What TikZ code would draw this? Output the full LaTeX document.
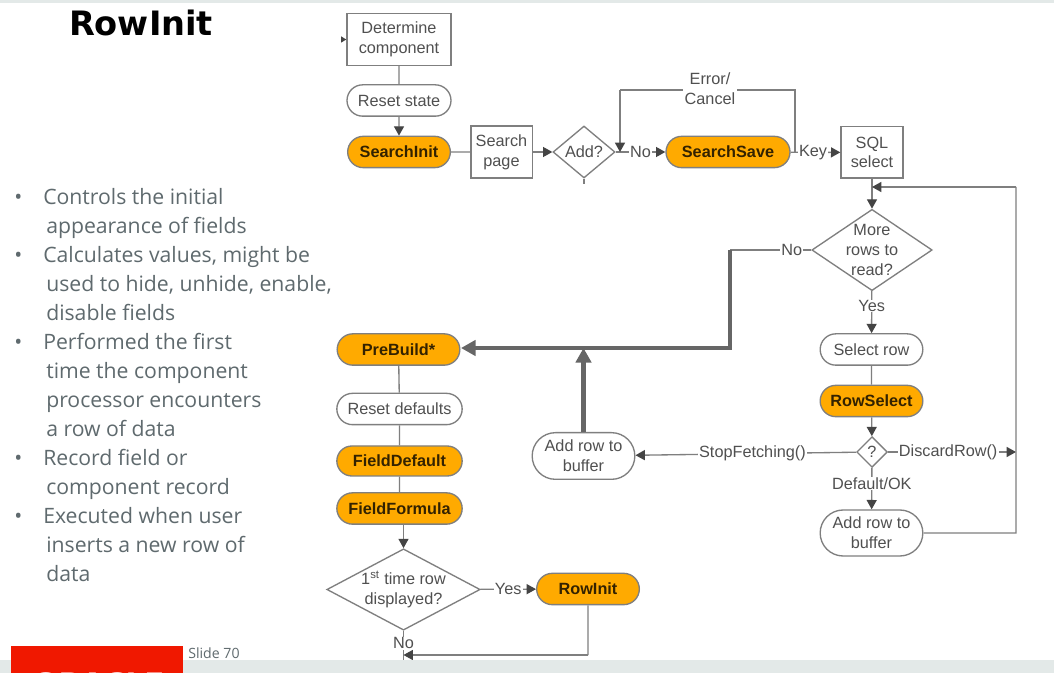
\documentclass[tikz,border=0pt]{standalone}
\usepackage{fontspec}
\setmainfont{Liberation Sans}
\newfontfamily\slidefont{Open Sans}
\newfontfamily\titlefont{DejaVu Sans}
\usetikzlibrary{arrows.meta, shapes.geometric, shapes.misc}
\definecolor{linegray}{HTML}{7F7F7F}
\definecolor{tipgray}{HTML}{444444}
\definecolor{thickgray}{HTML}{666666}
\definecolor{flowtext}{HTML}{505050}
\definecolor{slidetext}{HTML}{5F6A6E}
\definecolor{steporange}{HTML}{FFAA00}
\definecolor{bandgray}{HTML}{E3E9E8}
\definecolor{logored}{HTML}{F01800}

\begin{document}
\begin{tikzpicture}
% Style
[
    x=0.75pt, y=-0.75pt, line cap=butt,
    flow text/.style={font=\fontsize{12.2}{14.8}\selectfont, text=flowtext, align=center},
    rect box/.style={flow text, rectangle, draw=linegray, line width=1pt, fill=white, inner sep=0pt},
    round box/.style={flow text, rounded rectangle, draw=linegray, line width=1pt, fill=white, inner sep=0pt, minimum height=23.5pt},
    orange box/.style={round box, fill=steporange, text=black!80!steporange, font=\fontsize{12.2}{14.8}\selectfont\bfseries},
    choice/.style={flow text, diamond, draw=linegray, line width=1pt, fill=white, inner sep=0pt},
    flow label/.style={flow text, fill=white, inner xsep=1pt, inner ysep=0.5pt},
    plain line/.style={draw=linegray, line width=1pt},
    flow line/.style={plain line, -{Triangle[length=7pt, width=7.5pt, color=tipgray]}},
    small flow/.style={plain line, -{Triangle[length=4pt, width=4.5pt, color=tipgray]}},
    thick line/.style={draw=thickgray, line width=3.5pt},
    thick flow/.style={thick line, -{Triangle[length=11pt, width=11.5pt, color=thickgray]}},
    slide text/.style={font=\slidefont\fontsize{15.9}{20}\selectfont, text=slidetext, anchor=base west, inner sep=0pt}
]

%================================== Prepare ==================================
\useasboundingbox (0,0) rectangle (1054,673);
\fill[white] (0,0) rectangle (1054,673);
\fill[bandgray] (0,0) rectangle (1054,3);

% Define: Title and bullets
\node[font=\titlefont\bfseries\fontsize{25.2}{30}\selectfont, text=black, anchor=base] (title) at (141,36) {RowInit};
\foreach \i / \x / \y / \t in {
    1/43/205/{Controls the initial}, 2/46/234/{appearance of fields},
    3/43/263/{Calculates values, might be}, 4/46/292/{used to hide, unhide, enable,},
    5/46/321/{disable fields}, 6/43/350/{Performed the first},
    7/46/379/{time the component}, 8/46/408/{processor encounters},
    9/46/437/{a row of data}, 10/43/466/{Record field or},
    11/46/495/{component record}, 12/43/524/{Executed when user},
    13/46/553/{inserts a new row of}, 14/46/582/{data}} {
    \node[slide text] (line\i) at (\x,\y) {\t};
}
\foreach \i / \y in {1/205, 3/263, 6/350, 10/466, 12/524} {
    \node[slide text] (dot\i) at (14,\y) {\textbullet};
}

%=================================== Start ===================================
% Draw: Top row
\node[rect box, minimum width=78pt, minimum height=39pt] (determine) at (399,39.5) {Determine\\component};
\node[round box, minimum width=78pt] (resetstate) at (399,100.5) {Reset state};
\node[orange box, minimum width=77pt] (searchinit) at (399,152) {SearchInit};
\node[rect box, minimum width=46pt, minimum height=39pt] (searchpage) at (501.5,152) {Search\\page};
\node[choice, minimum width=46.5pt, minimum height=39pt, aspect=1.19] (add) at (584,152) {Add?};
\node[orange box, minimum width=93pt] (searchsave) at (728,152) {SearchSave};
\node[rect box, minimum width=46.5pt, minimum height=38.5pt] (sqlselect) at (872,152.5) {SQL\\select};

% Draw: Right column
\node[choice, inner sep=-1.1pt, aspect=1.48] (morerows) at (872,250) {More\\rows to\\read?};
\node[round box, minimum width=77pt] (selectrow) at (871.5,349.5) {Select row};
\node[orange box, minimum width=77pt] (rowselect) at (871.5,401) {RowSelect};
\node[choice, minimum width=23pt, minimum height=23pt] (query) at (872,452) {?};
\node[round box, minimum width=77pt, minimum height=34.5pt] (bufferok) at (871.5,533) {Add row to\\buffer};
\node[round box, minimum width=77pt, minimum height=35pt] (bufferstop) at (583.5,456) {Add row to\\buffer};

% Draw: Left column
\node[orange box, minimum width=92pt] (prebuild) at (398.5,349.5) {PreBuild*};
\node[round box, minimum width=94pt] (resetdefaults) at (399.5,409) {Reset defaults};
\node[orange box, minimum width=94pt, minimum height=22.5pt] (fielddefault) at (399.5,461) {FieldDefault};
\node[orange box, minimum width=94pt] (fieldformula) at (399.5,508.5) {FieldFormula};
\node[choice, minimum width=115pt, minimum height=61pt, aspect=1.88] (firsttime) at (403.5,589.5) {1\textsuperscript{st} time row\\displayed?};
\node[orange box, minimum width=77pt] (rowinit) at (588,589) {RowInit};

% Define: Free ends
\coordinate (startin) at (341,39.5);
\coordinate (erroutup) at (795,90);
\coordinate (errleft) at (620,90);
\coordinate (errin) at (620,152);
\coordinate (errout) at (795,152);
\coordinate (addstub) at (584,184);
\coordinate (loopin) at (872,187);
\coordinate (loopbottom) at (1016,533);
\coordinate (looptop) at (1016,187);
\coordinate (discardin) at (1016,452);
\coordinate (nocorner) at (730,250);
\coordinate (thickcorner) at (730,348);
\coordinate (mergebar) at (583.5,348);
\coordinate (prebuildin) at (461,348);
\coordinate (initdown) at (588,655);
\coordinate (initin) at (403.5,655);
\coordinate (firstend) at (403.5,662);

% Draw: Connectors
\draw[small flow] (startin) -- (determine.west);
\draw[plain line] (determine) -- (resetstate);
\draw[flow line] (resetstate) -- (searchinit);
\draw[plain line] (searchinit) -- (searchpage);
\draw[flow line] (searchpage) -- (add);
\draw[plain line] (add.south) -- (addstub);
\draw[flow line] (add) -- node[flow label] (labelno) {No} (searchsave);
\draw[flow line] (searchsave) -- node[flow label, pos=0.45] (labelkey) {Key} (sqlselect);
\draw[plain line] (errout) -- (erroutup) -- (errleft);
\draw[flow line] (errleft) -- (errin);
\node[flow label] (labelerror) at (710,88.5) {Error/\\Cancel};
\draw[flow line] (sqlselect) -- (morerows);
\draw[flow line] (morerows) -- node[flow label, pos=0.35] (labelyes) {Yes} (selectrow);
\draw[plain line] (selectrow) -- (rowselect);
\draw[flow line] (rowselect) -- (query);
\draw[flow line] (query) -- node[flow label, pos=0.37] (labelok) {Default/OK} (bufferok);
\draw[flow line] (query) -- node[flow label, pos=0.47] (labelstop) {StopFetching()} (bufferstop);
\draw[flow line] (query) -- node[flow label, pos=0.47] (labeldiscard) {DiscardRow()} (discardin);
\draw[plain line] (bufferok) -- (loopbottom) -- (looptop);
\draw[flow line] (looptop) -- (loopin);
\draw[plain line, line width=1.5pt] (morerows) -- node[flow label, pos=0.24] (labelstopno) {No} (nocorner);
\draw[thick flow, line join=miter] (nocorner) -- (thickcorner) -- (prebuildin);
\draw[thick flow] (bufferstop) -- (mergebar);
\draw[plain line] (prebuild) -- (resetdefaults);
\draw[plain line] (resetdefaults) -- (fielddefault);
\draw[plain line] (fielddefault) -- (fieldformula);
\draw[flow line] (fieldformula.south -| firsttime) -- (firsttime);
\draw[flow line] (firsttime) -- node[flow label, pos=0.5] (labelfirstyes) {Yes} (rowinit);
\draw[plain line] (firsttime) -- node[flow label, pos=0.40] (labelfirstno) {No} (firstend);
\draw[plain line] (rowinit) -- (initdown);
\draw[flow line] (initdown) -- (initin);

%==================================== END ====================================
% Draw: Footer
\fill[bandgray] (0,660) rectangle (1054,673);
\node[font=\slidefont\fontsize{10.6}{12}\selectfont, text=slidetext, anchor=base west, inner sep=0pt] (slide) at (188,658) {Slide 70};
\begin{scope}
    \clip (11,646) rectangle (183,673);
    \fill[logored] (11,646) rectangle (183,673);
    \node[font=\titlefont\bfseries\fontsize{17}{20}\selectfont, text=white, anchor=base, inner sep=0pt, xscale=1.3] (oracle) at (99,689) {ORACLE};
\end{scope}

\end{tikzpicture}
\end{document}
